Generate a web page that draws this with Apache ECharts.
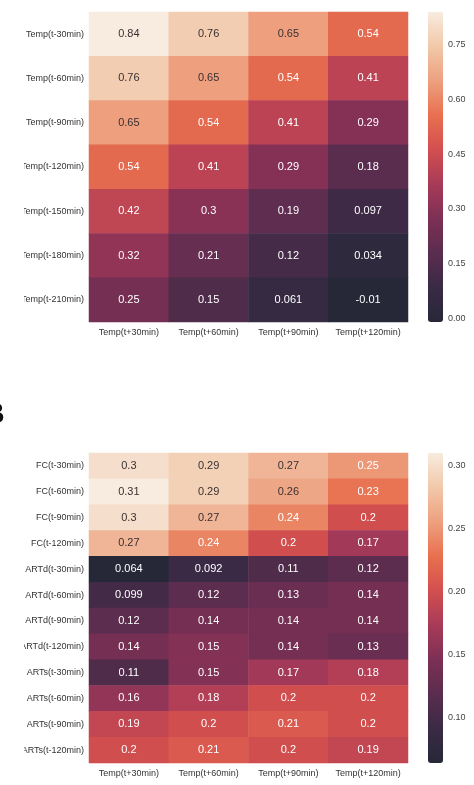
<!DOCTYPE html>
<html>
<head>
<meta charset="utf-8">
<script src="https://cdn.jsdelivr.net/npm/echarts@6/dist/echarts.min.js"></script>
<style>
html,body{margin:0;padding:0;background:#fff;}
#chart{width:474px;height:785px;}
</style>
</head>
<body>
<div id="chart"></div>
<script>
// columns (shared by both panels)
var colLabels = ['Temp(t+30min)', 'Temp(t+60min)', 'Temp(t+90min)', 'Temp(t+120min)'];

// panel A rows and values
var rowsA = ['Temp(t-30min)', 'Temp(t-60min)', 'Temp(t-90min)', 'Temp(t-120min)', 'Temp(t-150min)', 'Temp(t-180min)', 'Temp(t-210min)'];
var valsA = [
    [0.84, 0.76, 0.65, 0.54],
    [0.76, 0.65, 0.54, 0.41],
    [0.65, 0.54, 0.41, 0.29],
    [0.54, 0.41, 0.29, 0.18],
    [0.42, 0.3, 0.19, 0.097],
    [0.32, 0.21, 0.12, 0.034],
    [0.25, 0.15, 0.061, -0.01]
];
var rangeA = [-0.01, 0.84];
var ticksA = [0, 0.15, 0.30, 0.45, 0.60, 0.75];

// panel B rows and values
var rowsB = ['FC(t-30min)', 'FC(t-60min)', 'FC(t-90min)', 'FC(t-120min)',
    'ARTd(t-30min)', 'ARTd(t-60min)', 'ARTd(t-90min)', 'ARTd(t-120min)',
    'ARTs(t-30min)', 'ARTs(t-60min)', 'ARTs(t-90min)', 'ARTs(t-120min)'];
var valsB = [
    [0.3, 0.29, 0.27, 0.25],
    [0.31, 0.29, 0.26, 0.23],
    [0.3, 0.27, 0.24, 0.2],
    [0.27, 0.24, 0.2, 0.17],
    [0.064, 0.092, 0.11, 0.12],
    [0.099, 0.12, 0.13, 0.14],
    [0.12, 0.14, 0.14, 0.14],
    [0.14, 0.15, 0.14, 0.13],
    [0.11, 0.15, 0.17, 0.18],
    [0.16, 0.18, 0.2, 0.2],
    [0.19, 0.2, 0.21, 0.2],
    [0.2, 0.21, 0.2, 0.19]
];
var rangeB = [0.064, 0.31];
var ticksB = [0.10, 0.15, 0.20, 0.25, 0.30];

// washed "rocket" like palette
var rocket = ['#262837', '#3a2a45', '#5a2d4e', '#7d2f55', '#a83a58', '#d24f4f', '#e8704f', '#eda07f', '#f1c8a9', '#f8ebdf'];
var FONT = '"Liberation Sans", Arial, sans-serif';

function buildData(vals, range){
    var out = [];
    for(var r = 0; r < vals.length; r++){
        for(var c = 0; c < vals[r].length; c++){
            var v = vals[r][c];
            var t = (v - range[0]) / (range[1] - range[0]);
            out.push({
                value: [c, r, v],
                label: {color: t > 0.77 ? '#3a3030' : '#ffffff'}
            });
        }
    }
    return out;
}

function catX(gi){
    return {
        type: 'category', gridIndex: gi, data: colLabels, position: 'bottom',
        axisLine: {show: false}, axisTick: {show: false}, splitLine: {show: false},
        axisLabel: {interval: 0, fontSize: 9, color: '#333', fontFamily: FONT, margin: 6}
    };
}
function catY(gi, rows){
    return {
        type: 'category', gridIndex: gi, data: rows, inverse: true,
        axisLine: {show: false}, axisTick: {show: false}, splitLine: {show: false},
        axisLabel: {interval: 0, fontSize: 9, color: '#333', fontFamily: FONT, margin: 5}
    };
}
function barX(gi){
    return {type: 'value', gridIndex: gi, show: false};
}
function barY(gi, range, ticks){
    return {
        type: 'value', gridIndex: gi, min: range[0], max: range[1], position: 'right',
        axisLine: {show: false}, axisTick: {show: false}, splitLine: {show: false},
        axisLabel: {
            customValues: ticks, fontSize: 9, color: '#444', fontFamily: FONT, margin: 5,
            formatter: function(v){ return v.toFixed(2); }
        }
    };
}

var chart = echarts.init(document.getElementById('chart'));
var option = {
    backgroundColor: '#fff',
    animation: false,
    graphic: [
        // the source figure is cropped on its left edge
        {type: 'rect', left: 0, top: 0, z: 100, shape: {width: 24, height: 395}, style: {fill: '#fff'}},
        {type: 'rect', left: 0, top: 440, z: 100, shape: {width: 24, height: 345}, style: {fill: '#fff'}},
        {
            type: 'text', left: -17, top: 400, z: 101,
            style: {text: 'B', fontSize: 30, fontWeight: 'bold', fill: '#111', fontFamily: FONT}
        }
    ],
    grid: [
        {left: 89, top: 12, width: 319, height: 310},
        {left: 89, top: 453, width: 319, height: 310},
        {left: 428, top: 12, width: 15, height: 310},
        {left: 428, top: 453, width: 15, height: 310}
    ],
    xAxis: [catX(0), catX(1), barX(2), barX(3)],
    yAxis: [catY(0, rowsA), catY(1, rowsB), barY(2, rangeA, ticksA), barY(3, rangeB, ticksB)],
    visualMap: [
        {
            type: 'continuous', seriesIndex: 0, min: rangeA[0], max: rangeA[1],
            orient: 'vertical', left: 428, top: 12, itemWidth: 15, itemHeight: 310,
            padding: 0, calculable: false, text: null, hoverLink: false,
            inRange: {color: rocket}
        },
        {
            type: 'continuous', seriesIndex: 1, min: rangeB[0], max: rangeB[1],
            orient: 'vertical', left: 428, top: 453, itemWidth: 15, itemHeight: 310,
            padding: 0, calculable: false, text: null, hoverLink: false,
            inRange: {color: rocket}
        }
    ],
    series: [
        {
            type: 'heatmap', xAxisIndex: 0, yAxisIndex: 0,
            data: buildData(valsA, rangeA),
            label: {show: true, fontSize: 11, fontFamily: FONT, formatter: function(p){ return String(p.data.value[2]); }},
            emphasis: {disabled: true}
        },
        {
            type: 'heatmap', xAxisIndex: 1, yAxisIndex: 1,
            data: buildData(valsB, rangeB),
            label: {show: true, fontSize: 11, fontFamily: FONT, formatter: function(p){ return String(p.data.value[2]); }},
            emphasis: {disabled: true}
        }
    ]
};
chart.setOption(option);
</script>
</body>
</html>
